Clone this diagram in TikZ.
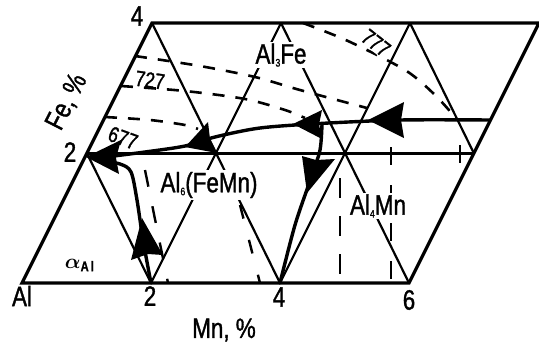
\documentclass[tikz,border=0pt]{standalone}
\usepackage{fontspec}
\setmainfont[FakeStretch=0.8,FakeBold=1.2]{Liberation Sans}
\usepackage{amsmath}
\newcommand{\lowsub}[1]{{\fontsize{11}{11}\selectfont\raisebox{-3pt}{#1}}}
\newcommand{\alphaAl}{$\boldsymbol{\alpha}_{\mathbf{Al}}$}
\begin{document}
\begin{tikzpicture}[x=1pt,y=-1pt,
  frame/.style={line width=3.2pt, line join=miter},
  gridline/.style={line width=2.2pt},
  iso/.style={line width=2.6pt, dash pattern=on 12pt off 11pt},
  tieline/.style={line width=2.4pt},
  curve/.style={line width=3.4pt, line cap=round, line join=round},
  head/.style={fill=black},
  lab/.style={font=\fontsize{28}{30}\selectfont, inner sep=0pt},
  phase/.style={lab, fill=white, inner sep=1.5pt},
  num/.style={font=\fontsize{22}{24}\selectfont, inner sep=0pt},
  smalllab/.style={font=\fontsize{20}{22}\selectfont, inner sep=0pt},
]
\useasboundingbox (0,0) rectangle (539,349);
% grid points (Mn, Fe)
\coordinate (A00) at (22,283);
\coordinate (A20) at (151,283);
\coordinate (A40) at (280,283);
\coordinate (A60) at (409,283);
\coordinate (A02) at (87,153.5);
\coordinate (A22) at (216,153.5);
\coordinate (A42) at (345,153.5);
\coordinate (A62) at (474,153.5);
\coordinate (A04) at (152,23);
\coordinate (A24) at (281,23);
\coordinate (A44) at (410,23);
\coordinate (A64) at (539,23);

% triangle grid
\draw[gridline] (A20) -- (A24);
\draw[gridline] (A40) -- (A44);
\draw[gridline] (A02) -- (A20);
\draw[gridline] (A04) -- (A40);
\draw[gridline] (A24) -- (A60);
\draw[gridline] (A44) -- (A62);
\draw[frame] (A02) -- (A62);
\draw[frame] (A00) -- (A60) -- (A64) -- (A04) -- cycle;

% isotherms
\draw[iso] plot[smooth] coordinates {(135,56) (200,66) (255,77) (300,90) (367,108)};
\draw[iso] plot[smooth] coordinates {(121,86) (185,91) (245,99) (285,110) (305,118)};
\draw[iso] plot[smooth] coordinates {(105,117) (150,120) (185,125) (198,129)};
\draw[iso] plot[smooth] coordinates {(303,23) (348,41) (405,70) (434,94) (455,117)};

% dashed tie lines
\draw[tieline, dash pattern=on 17pt off 20pt] (145,170) -- (168,283);
\draw[tieline, dash pattern=on 14pt off 22pt] (240,205) -- (260,283);
\draw[tieline, dash pattern=on 20pt off 18pt] (340,178) -- (340,275);
\draw[tieline, dash pattern=on 18pt off 20pt] (391,147) -- (391,283);
\draw[tieline] (460,145) -- (460,163);

% univariant curves
\draw[curve] plot[smooth, tension=0.5] coordinates {(490,120) (400,120) (320,123.5) (260,128) (215,137) (185,146) (145,152) (98,158)};
\draw[curve] plot[smooth, tension=0.5] coordinates {(98,160) (120,164) (131,172) (137,200) (143,240) (151,283)};
\draw[curve] plot[smooth, tension=0.5] coordinates {(322,124) (320,150) (311,178) (295,225) (280,283)};

% arrowheads
\fill[head] (368,120) -- (404,102) -- (401,120) -- (404,138) -- cycle;
\fill[head] (293,124) -- (322,110) -- (319,124.5) -- (322,139) -- cycle;
\fill[head] (185,147) -- (208,122) -- (210,139) -- (217,153) -- cycle;
\fill[head] (86,157) -- (121,140) -- (116,158) -- (119,174) -- cycle;
\fill[head] (142,218) -- (163,255) -- (148,254) -- (131,260) -- cycle;
\fill[head] (307,193) -- (302,156) -- (316,160) -- (335,159) -- cycle;

% phase labels
\node[phase] (l6) at (209,185) {Al\lowsub{6}(FeMn)};
\node[phase] (l3) at (281,55) {Al\lowsub{3}Fe};
\node[phase] (l4) at (378,206) {Al\lowsub{4}Mn};
\node[smalllab] (aal) at (80,265) {\alphaAl};

% isotherm labels
\node[num, rotate=-8] (t727) at (150,80) {727};
\node[num, rotate=-20] (t677) at (123,138) {677};
\node[num, rotate=-38, fill=white, inner sep=1pt] (t777) at (376,43) {777};

% axis labels
\node[lab] (al) at (22,296) {Al};
\node[lab] (m2) at (150,296) {2};
\node[lab] (m4) at (279,297) {4};
\node[lab] (m6) at (409,300) {6};
\node[lab] (mn) at (224,330) {Mn, \%};
\node[lab] (f4) at (137,16) {4};
\node[lab] (f2) at (70,152) {2};
\node[lab, rotate=63] (fe) at (67,102) {Fe, \%};
\end{tikzpicture}
\end{document}
